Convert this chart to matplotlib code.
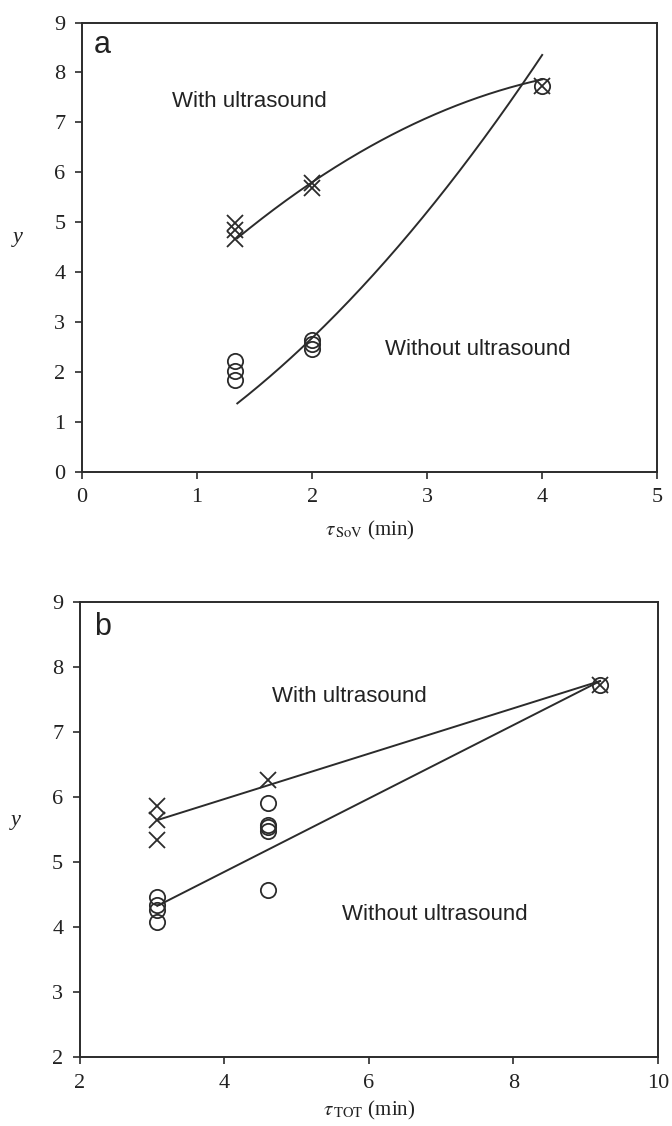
import numpy as np
import matplotlib.pyplot as plt

plt.rcParams['font.family'] = ['Liberation Serif', 'DejaVu Serif']
plt.rcParams['mathtext.fontset'] = 'stix'

# panel a: tau_SoV (min) vs y
a_with_x = [1.33, 1.33, 1.33, 2.0, 2.0, 4.0]
a_with_y = [4.98, 4.85, 4.67, 5.79, 5.69, 7.73]
a_without_x = [1.33, 1.33, 1.33, 2.0, 2.0, 2.0, 4.0]
a_without_y = [2.22, 2.02, 1.83, 2.65, 2.55, 2.45, 7.73]
# trend curves (2nd order)
a_with_trend_x = [1.35, 2.0, 4.0]
a_with_trend_y = [4.68, 5.80, 7.86]
a_without_trend_x = [1.35, 2.0, 4.0]
a_without_trend_y = [1.37, 2.68, 8.35]

# panel b: tau_TOT (min) vs y
b_with_x = [3.07, 3.07, 3.07, 4.6, 9.2]
b_with_y = [5.87, 5.65, 5.35, 6.27, 7.73]
b_without_x = [3.07, 3.07, 3.07, 3.07, 4.6, 4.6, 4.6, 4.6, 4.6, 9.2]
b_without_y = [4.47, 4.35, 4.27, 4.08, 5.91, 5.58, 5.54, 5.49, 4.57, 7.73]
# linear trends
b_with_trend_x = [3.07, 9.2]
b_with_trend_y = [5.65, 7.79]
b_without_trend_x = [3.07, 9.2]
b_without_trend_y = [4.33, 7.79]

col = '#2b2b2b'
txt = '#222222'
fig = plt.figure(figsize=(6.72, 11.26), dpi=100)
ax1 = fig.add_axes([0.122, 0.581, 0.856, 0.399])
ax2 = fig.add_axes([0.119, 0.061, 0.860, 0.404])


def style(ax):
    for s in ax.spines.values():
        s.set_color(col)
        s.set_linewidth(1.4)
    ax.tick_params(direction='out', length=5, width=1.2, color=col, pad=7,
                   labelsize=16, labelcolor=txt, top=False, right=False)


def trend(ax, xs, ys, deg):
    c = np.polyfit(xs, ys, deg)
    xx = np.linspace(xs[0], xs[-1], 200)
    ax.plot(xx, np.polyval(c, xx), color=col, lw=1.4)


mk = dict(linestyle='none', ms=11, mew=1.3, color=col)
note = dict(family='Liberation Sans', fontsize=16, color=txt, va='center')

# ---- panel a
trend(ax1, a_with_trend_x, a_with_trend_y, 2)
trend(ax1, a_without_trend_x, a_without_trend_y, 2)
ax1.plot(a_with_x, a_with_y, marker='x', **mk)
ax1.plot(a_without_x, a_without_y, marker='o', mfc='none', **mk)
ax1.set_xlim(0, 5)
ax1.set_ylim(0, 9)
ax1.set_xticks(range(0, 6))
ax1.set_yticks(range(0, 10))
ax1.set_xlabel(r'$\tau_{\,\mathrm{SoV}}$ (min)', fontsize=15, color=txt, labelpad=8)
ax1.set_ylabel('y', fontsize=16, style='italic', rotation=0, labelpad=26, color=txt)
ax1.text(0.78, 7.42, 'With ultrasound', **note)
ax1.text(2.63, 2.45, 'Without ultrasound', **note)
ax1.text(0.1, 8.55, 'a', family='Liberation Sans', fontsize=22, color=txt, va='center')
style(ax1)

# ---- panel b
trend(ax2, b_with_trend_x, b_with_trend_y, 1)
trend(ax2, b_without_trend_x, b_without_trend_y, 1)
ax2.plot(b_with_x, b_with_y, marker='x', **mk)
ax2.plot(b_without_x, b_without_y, marker='o', mfc='none', **mk)
ax2.set_xlim(2, 10)
ax2.set_ylim(2, 9)
ax2.set_xticks([2, 4, 6, 8, 10])
ax2.set_yticks(range(2, 10))
ax2.set_xlabel(r'$\tau_{\,\mathrm{TOT}}$ (min)', fontsize=15, color=txt, labelpad=4)
ax2.set_ylabel('y', fontsize=16, style='italic', rotation=0, labelpad=26, color=txt)
ax2.text(4.66, 7.55, 'With ultrasound', **note)
ax2.text(5.63, 4.2, 'Without ultrasound', **note)
ax2.text(2.2, 8.62, 'b', family='Liberation Sans', fontsize=22, color=txt, va='center')
style(ax2)

fig.savefig('out.png', dpi=100)
